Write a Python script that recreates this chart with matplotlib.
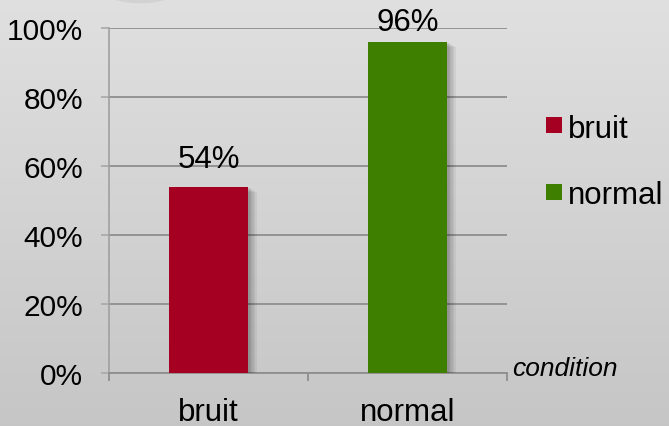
import numpy as np
import matplotlib
matplotlib.use("Agg")
import matplotlib.pyplot as plt
from matplotlib import patheffects as pe
from matplotlib.patches import Rectangle, Ellipse

# Share of correct answers per listening condition
categories = ["bruit", "normal"]
values = [54, 96]
bar_colors = ["#a50021", "#3f7f00"]
y_ticks = [0, 20, 40, 60, 80, 100]
y_tick_labels = ["0%", "20%", "40%", "60%", "80%", "100%"]
value_labels = ["54%", "96%"]
axis_title = "condition"

plt.rcParams["font.family"] = ["Liberation Sans", "DejaVu Sans"]

W, H = 669, 427
fig = plt.figure(figsize=(W / 100, H / 100), dpi=100)

# vertical grey gradient behind everything
bg = fig.add_axes([0, 0, 1, 1], zorder=-10)
grad = np.linspace(0, 1, 256).reshape(-1, 1)
top = np.array([0.878, 0.878, 0.878])
bot = np.array([0.776, 0.776, 0.776])
img = top + (bot - top) * grad[..., None]
bg.imshow(img, aspect="auto", extent=[0, 1, 0, 1])
bg.add_patch(Ellipse((0.21, 1.02), 0.11, 0.06, transform=bg.transAxes,
                     color="#c4c4c4", alpha=0.45, lw=0))
bg.set_axis_off()

left, right = 109 / W, 507 / W
bottom, topp = (H - 374) / H, (H - 29) / H
ax = fig.add_axes([left, bottom, right - left, topp - bottom])
ax.patch.set_alpha(0)

x = np.arange(len(categories))
shadow = [pe.SimplePatchShadow(offset=(d, -d * 0.6), shadow_rgbFace="k",
                               alpha=0.05) for d in (1, 2, 3, 4, 5, 6)]
bars = ax.bar(x, values, width=0.40, color=bar_colors, zorder=3)
for b in bars:
    b.set_path_effects(shadow + [pe.Normal()])

ax.set_xlim(-0.5, len(categories) - 0.5)
ax.set_ylim(0, 100)

grid_c = "#8e8e8e"
ax.set_yticks(y_ticks)
ax.set_yticklabels(y_tick_labels, fontsize=21.5)
ax.yaxis.grid(True, color=grid_c, lw=1.3, zorder=1)
ax.tick_params(axis="y", length=6, width=1.2, color="#a8a8a8", pad=12.5)

ax.set_xticks(x)
ax.set_xticklabels(categories, fontsize=22.5)
ax.set_xticks(np.arange(-0.5, len(categories)), minor=True)
ax.tick_params(axis="x", which="major", length=0, pad=17.5)
ax.tick_params(axis="x", which="minor", length=6, width=1.3, color=grid_c)

for side in ("top", "right"):
    ax.spines[side].set_visible(False)
ax.spines["left"].set_color("#a0a0a0")
ax.spines["left"].set_linewidth(1.2)
ax.spines["bottom"].set_color(grid_c)
ax.spines["bottom"].set_linewidth(1.3)

offsets = [9.5, 3.8]
for xi, v, lab, off in zip(x, values, value_labels, offsets):
    ax.annotate(lab, (xi, v), xytext=(0, off), textcoords="offset points",
                ha="center", va="bottom", fontsize=22.5)

ax.text(1.013, 0.015, axis_title, transform=ax.transAxes, style="italic",
        fontsize=19, ha="left", va="center")

# legend: colour key squares with labels, stacked on the right
key_x, key_size, row_y = 546, 16, [126, 193]
for name, color, yc in zip(categories, bar_colors, row_y):
    fig.add_artist(Rectangle((key_x / W, (H - yc - key_size / 2) / H),
                             key_size / W, key_size / H,
                             transform=fig.transFigure, color=color, lw=0))
    fig.text((key_x + key_size + 6) / W, (H - yc) / H, name,
             fontsize=22.5, ha="left", va="center_baseline")

fig.savefig("out.png", dpi=100)
